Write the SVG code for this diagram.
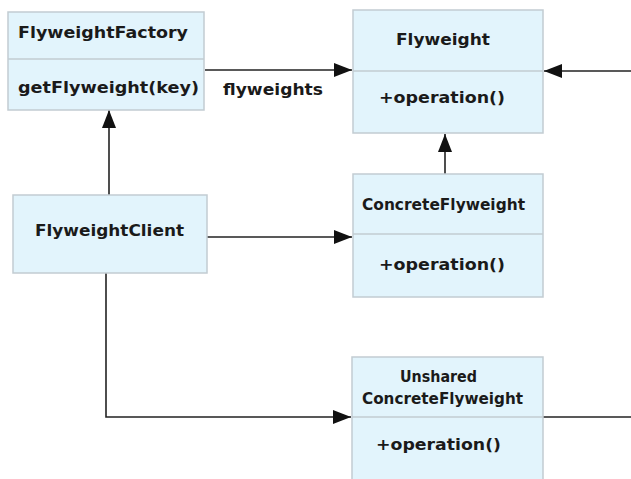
<svg xmlns="http://www.w3.org/2000/svg" width="631" height="479" viewBox="0 0 631 479">
  <style>
    .box { fill: #e2f4fc; stroke: #c2ccd2; stroke-width: 1.5; }
    .div { stroke: #c2ccd2; stroke-width: 1.5; }
    .lbl { font-family: "DejaVu Sans", Verdana, sans-serif; font-weight: bold; font-size: 15px; fill: #1a1a1a; }
    .edge { fill: none; stroke: #222; stroke-width: 1.6; }
  </style>
  <defs>
    <marker id="arrow" markerUnits="userSpaceOnUse" markerWidth="20" markerHeight="16" refX="18" refY="7" orient="auto">
      <path d="M0,0 L18,7 L0,14 z" fill="#111"/>
    </marker>
  </defs>
  <rect width="631" height="479" fill="#ffffff"/>

  <!-- connectors -->
  <g id="connectors">
    <line class="edge" x1="205" y1="70" x2="352" y2="70" marker-end="url(#arrow)"/>
    <line class="edge" x1="631" y1="71" x2="544" y2="71" marker-end="url(#arrow)"/>
    <line class="edge" x1="445" y1="174" x2="445" y2="134" marker-end="url(#arrow)"/>
    <line class="edge" x1="109" y1="195" x2="109" y2="110" marker-end="url(#arrow)"/>
    <line class="edge" x1="207" y1="237" x2="352" y2="237" marker-end="url(#arrow)"/>
    <polyline class="edge" points="106,273 106,417 351,417" marker-end="url(#arrow)"/>
    <line class="edge" x1="543" y1="417" x2="631" y2="417"/>
    <text class="lbl" x="223" y="95" textLength="100" lengthAdjust="spacingAndGlyphs">flyweights</text>
  </g>

  <!-- FlyweightFactory -->
  <g id="flyweight-factory">
    <rect class="box" x="8" y="12" width="196" height="98"/>
    <line class="div" x1="8" y1="59" x2="204" y2="59"/>
    <text class="lbl" x="18" y="38" textLength="170" lengthAdjust="spacingAndGlyphs">FlyweightFactory</text>
    <text class="lbl" x="18" y="93" textLength="181" lengthAdjust="spacingAndGlyphs">getFlyweight(key)</text>
  </g>

  <!-- Flyweight -->
  <g id="flyweight">
    <rect class="box" x="353" y="10" width="190" height="123"/>
    <line class="div" x1="353" y1="71" x2="543" y2="71"/>
    <text class="lbl" x="396" y="45" textLength="94" lengthAdjust="spacingAndGlyphs">Flyweight</text>
    <text class="lbl" x="379" y="103" textLength="126" lengthAdjust="spacingAndGlyphs">+operation()</text>
  </g>

  <!-- FlyweightClient -->
  <g id="flyweight-client">
    <rect class="box" x="13" y="195" width="194" height="78"/>
    <text class="lbl" x="35" y="236" textLength="149" lengthAdjust="spacingAndGlyphs">FlyweightClient</text>
  </g>

  <!-- ConcreteFlyweight -->
  <g id="concrete-flyweight">
    <rect class="box" x="353" y="174" width="190" height="123"/>
    <line class="div" x1="353" y1="234" x2="543" y2="234"/>
    <text class="lbl" x="362" y="210" textLength="163" lengthAdjust="spacingAndGlyphs">ConcreteFlyweight</text>
    <text class="lbl" x="379" y="270" textLength="126" lengthAdjust="spacingAndGlyphs">+operation()</text>
  </g>

  <!-- UnsharedConcreteFlyweight -->
  <g id="unshared-concrete-flyweight">
    <rect class="box" x="352" y="357" width="191" height="130"/>
    <line class="div" x1="352" y1="417" x2="543" y2="417"/>
    <text class="lbl" x="400" y="382" textLength="77" lengthAdjust="spacingAndGlyphs">Unshared</text>
    <text class="lbl" x="362" y="404" textLength="161" lengthAdjust="spacingAndGlyphs">ConcreteFlyweight</text>
    <text class="lbl" x="376" y="450" textLength="125" lengthAdjust="spacingAndGlyphs">+operation()</text>
  </g>
</svg>
